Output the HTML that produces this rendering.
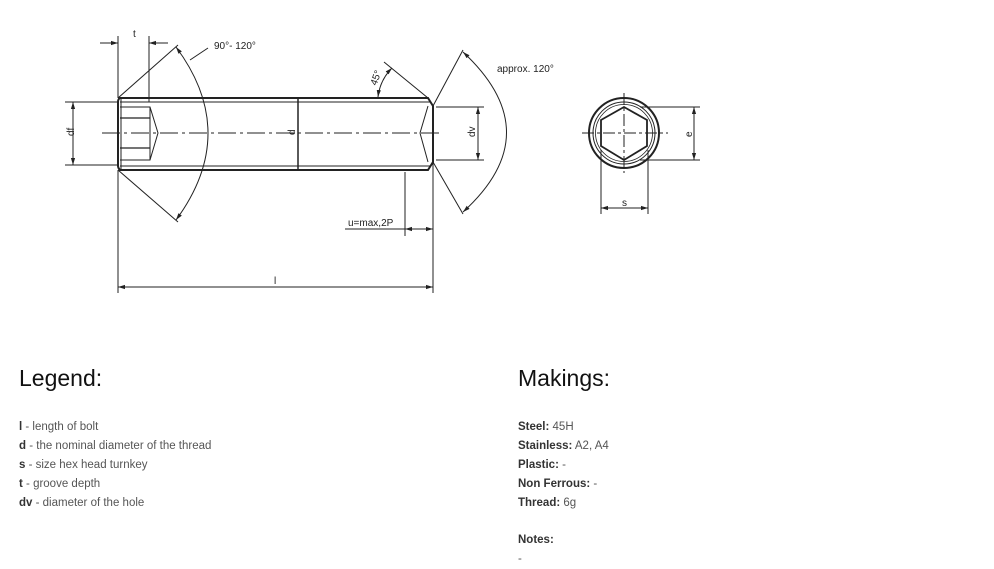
<!DOCTYPE html>
<html><head><meta charset="utf-8"><style>
body{margin:0;background:#fff;width:994px;height:562px;overflow:hidden;position:relative;font-family:"Liberation Sans",sans-serif;}
.h{position:absolute;font-size:23px;color:#111;}
.l{position:absolute;font-size:11.5px;color:#555;line-height:19px;}
.l b{color:#333;}
svg{position:absolute;left:0;top:0;}
svg text{font-family:"Liberation Sans",sans-serif;font-size:10px;fill:#222;}
</style></head><body>
<svg width="994" height="330" viewBox="0 0 994 330">
<defs><marker id="a" viewBox="0 0 10 10" refX="10" refY="5" markerWidth="7" markerHeight="7" orient="auto-start-reverse"><path d="M0,2 L10,5 L0,8 z" fill="#222"/></marker></defs>
<g stroke="#222" fill="none" stroke-width="1">
<path d="M120,98 L428,98 L433,106 L433,162 L428,170 L120,170 Q118,168 118,166 L118,102 Q118,99 120,98 z" stroke-width="2"/>
<line x1="120" y1="102" x2="430" y2="102"/><line x1="120" y1="166" x2="430" y2="166"/>
<line x1="121" y1="99" x2="121" y2="169"/>
<line x1="298" y1="98" x2="298" y2="170" stroke-width="1.5"/>
<path d="M120,107 L150,107 L158,133 L150,160 L120,160"/>
<line x1="120" y1="118" x2="150" y2="118" stroke-width="1.3"/><line x1="120" y1="148" x2="150" y2="148" stroke-width="1.3"/>
<line x1="150" y1="107" x2="150" y2="160"/>
<path d="M428,106 L420,133 L428,162"/>
<line x1="102" y1="133" x2="442" y2="133" stroke-dasharray="18,4,3,4"/>
<line x1="118" y1="98" x2="178" y2="45"/><line x1="118" y1="170" x2="178" y2="222"/>
<path d="M176,47 Q240,133 176,220" marker-start="url(#a)" marker-end="url(#a)"/>
<line x1="190" y1="60" x2="208" y2="48"/>
<line x1="118" y1="36" x2="118" y2="98"/><line x1="149" y1="36" x2="149" y2="102"/>
<line x1="100" y1="43" x2="118" y2="43" marker-end="url(#a)"/><line x1="168" y1="43" x2="149" y2="43" marker-end="url(#a)"/>
<line x1="65" y1="102" x2="118" y2="102"/><line x1="65" y1="165" x2="118" y2="165"/>
<line x1="73" y1="102" x2="73" y2="165" marker-start="url(#a)" marker-end="url(#a)"/>
<line x1="384" y1="62" x2="428" y2="98"/>
<path d="M392,68 Q380,80 378,97" marker-start="url(#a)" marker-end="url(#a)"/>
<line x1="405" y1="172" x2="405" y2="236"/>
<line x1="345" y1="229" x2="405" y2="229"/>
<line x1="405" y1="229" x2="433" y2="229" marker-start="url(#a)" marker-end="url(#a)"/>
<line x1="118" y1="170" x2="118" y2="293"/><line x1="433" y1="162" x2="433" y2="293"/>
<line x1="118" y1="287" x2="433" y2="287" marker-start="url(#a)" marker-end="url(#a)"/>
<line x1="433" y1="106" x2="463" y2="50"/><line x1="433" y1="162" x2="463" y2="214"/>
<path d="M463,52 Q550,133 463,212" marker-start="url(#a)" marker-end="url(#a)"/>
<line x1="436" y1="107" x2="484" y2="107"/><line x1="436" y1="160" x2="484" y2="160"/>
<line x1="478" y1="107" x2="478" y2="160" marker-start="url(#a)" marker-end="url(#a)"/>
<circle cx="624" cy="133" r="35" stroke-width="2"/>
<circle cx="624" cy="133" r="31"/>
<circle cx="624" cy="133" r="28.5" stroke-width="0.8"/>
<path d="M624,107 L647,120 L647,146 L624,160 L601,146 L601,120 z" stroke-width="1.8"/>
<line x1="582" y1="133" x2="668" y2="133" stroke-dasharray="12,3,3,3"/>
<line x1="624" y1="93" x2="624" y2="173" stroke-dasharray="12,3,3,3"/>
<line x1="640" y1="107" x2="700" y2="107"/><line x1="640" y1="160" x2="700" y2="160"/>
<line x1="694" y1="107" x2="694" y2="160" marker-start="url(#a)" marker-end="url(#a)"/>
<line x1="601" y1="150" x2="601" y2="214"/><line x1="648" y1="150" x2="648" y2="214"/>
<line x1="601" y1="208" x2="648" y2="208" marker-start="url(#a)" marker-end="url(#a)"/>
</g>
<text x="133" y="37">t</text>
<text x="214" y="49">90°- 120°</text>
<text x="70" y="140" transform="rotate(-90 70 136)">df</text>
<text x="290" y="136" transform="rotate(-90 292 133)">d</text>
<text x="368" y="82" transform="rotate(-70 375 78)">45°</text>
<text x="348" y="226">u=max,2P</text>
<text x="274" y="284">l</text>
<text x="497" y="72">approx. 120°</text>
<text x="467" y="137" transform="rotate(-90 471 133)">dv</text>
<text x="684" y="137" transform="rotate(-90 688 133)">e</text>
<text x="622" y="206">s</text>
</svg>
<div class="h" style="left:19px;top:365px">Legend:</div>
<div class="h" style="left:518px;top:365px">Makings:</div>
<div class="l" style="left:19px;top:418px"><b>l</b> - length of bolt<br><b>d</b> - the nominal diameter of the thread<br><b>s</b> - size hex head turnkey<br><b>t</b> - groove depth<br><b>dv</b> - diameter of the hole</div>
<div class="l" style="left:518px;top:418px"><b>Steel:</b> 45H<br><b>Stainless:</b> A2, A4<br><b>Plastic:</b> -<br><b>Non Ferrous:</b> -<br><b>Thread:</b> 6g</div>
<div class="l" style="left:518px;top:531px"><b>Notes:</b><br>-</div>
</body></html>
